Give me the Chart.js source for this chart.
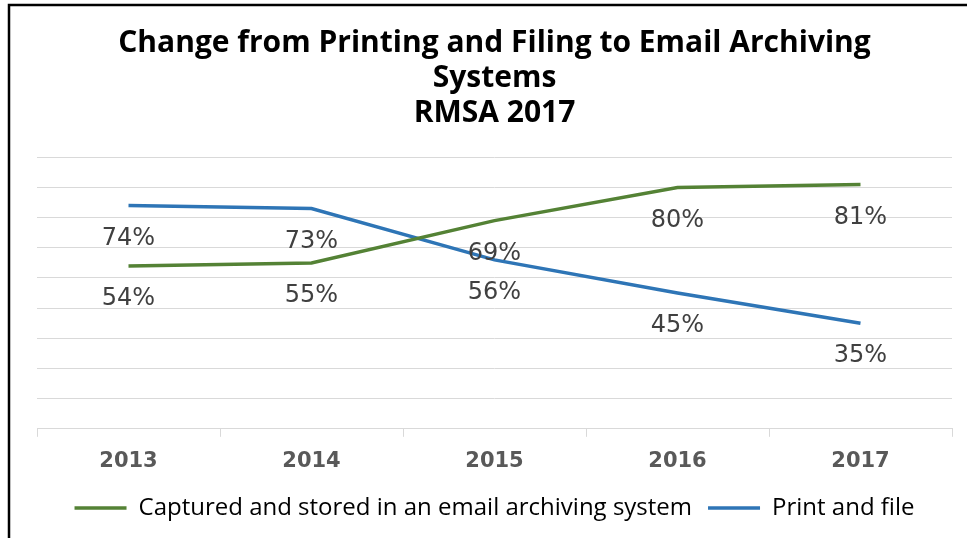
<!DOCTYPE html>
<html><head><meta charset="utf-8">
<script src="https://cdn.jsdelivr.net/npm/chart.js@4/dist/chart.umd.min.js"></script>
<style>html,body{margin:0;padding:0;background:#fff;}#wrap{position:relative;width:967px;height:538px;}</style>
</head><body><div id="wrap"><canvas id="c" width="967" height="538"></canvas></div>
<script>
const years = ['2013', '2014', '2015', '2016', '2017'];
const emailArchiving = [54, 55, 69, 80, 81];
const printAndFile = [74, 73, 56, 45, 35];
const titleLines = ['Change from Printing and Filing to Email Archiving', 'Systems', 'RMSA 2017'];
const seriesNames = ['Captured and stored in an email archiving system', 'Print and file'];

const frame = {
  id: 'frame',
  afterDraw(chart) {
    const ctx = chart.ctx;
    ctx.save();
    ctx.strokeStyle = '#000';
    ctx.lineWidth = 2.5;
    ctx.beginPath();
    ctx.moveTo(9, 538);
    ctx.lineTo(9, 5);
    ctx.lineTo(967, 5);
    ctx.stroke();
    ctx.restore();
  }
};
const valueLabels = {
  id: 'valueLabels',
  afterDatasetsDraw(chart) {
    const ctx = chart.ctx;
    ctx.save();
    ctx.font = '24px "DejaVu Sans"';
    ctx.fillStyle = '#404040';
    ctx.textAlign = 'center';
    ctx.textBaseline = 'middle';
    chart.data.datasets.forEach((ds, i) => {
      chart.getDatasetMeta(i).data.forEach((pt, j) => {
        ctx.fillText(ds.data[j] + '%', pt.x, pt.y + 33);
      });
    });
    ctx.restore();
  }
};

new Chart(document.getElementById('c'), {
  type: 'line',
  data: {
    labels: years,
    datasets: [
      { label: seriesNames[0], data: emailArchiving, borderColor: '#548235', backgroundColor: '#548235', borderWidth: 3.5, pointRadius: 0, tension: 0 },
      { label: seriesNames[1], data: printAndFile, borderColor: '#2E75B6', backgroundColor: '#2E75B6', borderWidth: 3.5, pointRadius: 0, tension: 0 }
    ]
  },
  options: {
    responsive: false,
    animation: false,
    layout: { padding: { left: 37, right: 15, top: 14, bottom: 8 } },
    plugins: {
      title: {
        display: true,
        text: titleLines,
        color: '#000',
        font: { family: 'Open Sans', weight: 'bold', size: 30, lineHeight: 1.17 },
        padding: { top: 12, bottom: 26 }
      },
      legend: {
        position: 'bottom',
        labels: {
          usePointStyle: true,
          pointStyle: 'line',
          pointStyleWidth: 52,
          color: '#000',
          font: { family: 'Open Sans', size: 24 },
          padding: 16
        }
      },
      tooltip: { enabled: false }
    },
    scales: {
      x: {
        offset: true,
        afterFit(scale) { scale.height -= 6; },
        grid: { offset: true, drawOnChartArea: false, drawTicks: true, tickLength: 8, color: '#d9d9d9' },
        border: { display: true, color: '#d9d9d9', width: 1 },
        ticks: { color: '#595959', font: { family: 'DejaVu Sans', weight: 'bold', size: 21 }, padding: 12 }
      },
      y: {
        min: 0, max: 90,
        ticks: { display: false, stepSize: 10 },
        grid: { drawTicks: false, color: '#d9d9d9' },
        border: { display: false }
      }
    }
  },
  plugins: [frame, valueLabels]
});
</script></body></html>
